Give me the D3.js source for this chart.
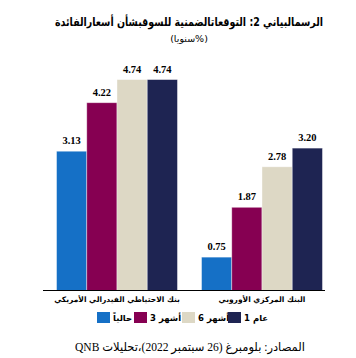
<!DOCTYPE html>
<html><head><meta charset="utf-8">
<script src="https://cdn.jsdelivr.net/npm/d3@7"></script>
<style>body{margin:0;background:#fff}svg{display:block}</style>
</head><body><svg id="c" width="356" height="358"></svg>
<script>
const groups = ["بنك الاحتياطي الفيدرالي الأمريكي", "البنك المركزي الأوروبي"];
const series = ["حالياً", "3 أشهر", "6 أشهر", "عام 1"];
const valuesFed = [3.13, 4.22, 4.74, 4.74];
const valuesEcb = [0.75, 1.87, 2.78, 3.20];
const colors = ["#1570c6", "#860052", "#ddd8c5", "#1e2452"];
const title = "الرسمالبياني 2: التوقعاتالضمنية للسوقبشأن أسعارالفائدة";
const subtitle = "(%سنويا)";
const source = "المصادر: بلومبرغ (26 سبتمبر 2022)،تحليلات QNB";

const data = groups.map((g, i) => ({g, vals: (i === 0 ? valuesFed : valuesEcb)}));
const svg = d3.select("#c");

const x0 = d3.scaleBand().domain(groups).range([44.5, 334.5]).paddingInner(0.166).paddingOuter(0.083);
const x1 = d3.scaleBand().domain(series).range([0, x0.bandwidth()]);
const y = d3.scaleLinear().domain([0, 5]).range([290.5, 68]);

const g = svg.selectAll("g.grp").data(data).join("g").attr("class", "grp")
  .attr("transform", d => `translate(${x0(d.g)},0)`);
g.selectAll("rect").data(d => d.vals.map((v, i) => ({v, s: series[i], c: colors[i]})))
  .join("rect")
  .attr("x", d => x1(d.s)).attr("width", x1.bandwidth())
  .attr("y", d => y(d.v)).attr("height", d => y(0) - y(d.v))
  .attr("fill", d => d.c).attr("stroke", "#fff").attr("stroke-opacity", 0.5).attr("stroke-width", 0.8);
g.selectAll("text.val").data(d => d.vals.map((v, i) => ({v, s: series[i]})))
  .join("text").attr("class", "val")
  .attr("x", d => x1(d.s) + x1.bandwidth() / 2).attr("y", d => y(d.v) - 7)
  .attr("text-anchor", "middle")
  .attr("font-family", "Liberation Serif, serif").attr("font-weight", "bold").attr("font-size", 10.5)
  .text(d => d3.format(".2f")(d.v));

// baseline
svg.append("line").attr("x1", 43).attr("x2", 325).attr("y1", 290.5).attr("y2", 290.5)
  .attr("stroke", "#000").attr("stroke-width", 1);

// category labels
svg.selectAll("text.cat").data(groups).join("text").attr("class", "cat")
  .attr("x", d => x0(d) + x0.bandwidth() / 2).attr("y", 302)
  .attr("text-anchor", "middle").attr("direction", "rtl")
  .attr("font-family", "DejaVu Sans, sans-serif").attr("font-weight", "bold").attr("font-size", 7.5)
  .text(d => d);

// legend: box, then label tokens (digit shown first, as in the reference)
const legX = [97, 134, 182, 228];
const leg = svg.selectAll("g.leg").data(series).join("g").attr("class", "leg")
  .attr("transform", (d, i) => `translate(${legX[i]},312)`);
leg.append("rect").attr("width", 13).attr("height", 11).attr("fill", (d, i) => colors[i]);
leg.each(function(d) {
  let cx = 16;
  const toks = d.split(" ");
  toks.sort((a, b) => (/^\d+$/.test(b) ? 1 : 0) - (/^\d+$/.test(a) ? 1 : 0));
  toks.forEach(tok => {
    const t = d3.select(this).append("text").attr("x", cx).attr("y", 9)
      .attr("font-family", "DejaVu Sans, sans-serif").attr("font-weight", "bold").attr("font-size", 8.5)
      .text(tok);
    cx += t.node().getComputedTextLength() + 3;
  });
});

// title
svg.append("text").attr("x", 189).attr("y", 26).attr("text-anchor", "middle").attr("direction", "rtl")
  .attr("font-family", "DejaVu Sans, sans-serif").attr("font-weight", "bold").attr("font-size", 11.5)
  .attr("textLength", 268).attr("lengthAdjust", "spacingAndGlyphs")
  .text(title);
svg.append("text").attr("x", 189).attr("y", 42).attr("text-anchor", "middle").attr("direction", "rtl")
  .attr("font-family", "DejaVu Sans, sans-serif").attr("font-size", 9.5)
  .text(subtitle);
svg.append("text").attr("x", 190).attr("y", 351).attr("text-anchor", "middle").attr("direction", "rtl")
  .attr("font-family", "Liberation Serif, DejaVu Sans, serif").attr("font-size", 12)
  .attr("textLength", 230).attr("lengthAdjust", "spacingAndGlyphs")
  .text(source);
</script></body></html>
